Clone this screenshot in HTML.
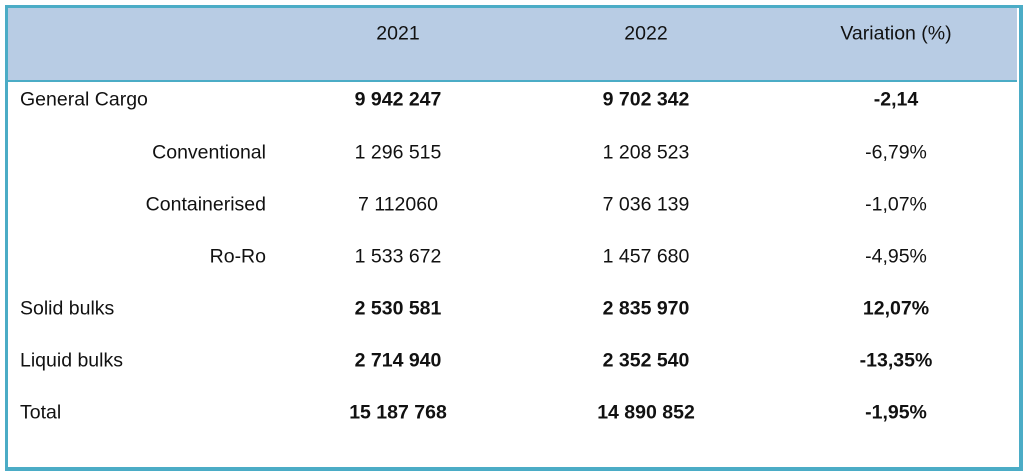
<!DOCTYPE html>
<html><head><meta charset="utf-8"><style>
html,body{margin:0;padding:0;background:#fff;width:1024px;height:476px;overflow:hidden}
body{font-family:"Liberation Sans",sans-serif;font-size:19.5px;color:#111}
#frame{position:absolute;left:5px;top:5px;width:1011px;height:459px;border:3px solid #4bacc6;border-right-width:4px;border-bottom-width:4px}
#hdr{position:absolute;left:8px;top:8px;width:1009px;height:72px;background:#b8cce4;border-bottom:2px solid #4bacc6}
.c{position:absolute;transform:translate(-50%,-50%);white-space:nowrap}
.l{position:absolute;transform:translateY(-50%);white-space:nowrap}
.r{position:absolute;transform:translate(-100%,-50%);white-space:nowrap}
.b{font-weight:bold}
</style></head><body>
<div id="frame"></div>
<div id="hdr"></div>
<div class="c" style="left:398px;top:34px">2021</div>
<div class="c" style="left:646px;top:34px">2022</div>
<div class="c" style="left:896px;top:34px">Variation (%)</div>

<div class="l" style="left:20px;top:100px">General Cargo</div>
<div class="c b" style="left:398px;top:100px">9 942 247</div>
<div class="c b" style="left:646px;top:100px">9 702 342</div>
<div class="c b" style="left:896px;top:100px">-2,14</div>

<div class="r" style="left:266px;top:153px">Conventional</div>
<div class="c" style="left:398px;top:153px">1 296 515</div>
<div class="c" style="left:646px;top:153px">1 208 523</div>
<div class="c" style="left:896px;top:153px">-6,79%</div>

<div class="r" style="left:266px;top:205px">Containerised</div>
<div class="c" style="left:398px;top:205px">7 112060</div>
<div class="c" style="left:646px;top:205px">7 036 139</div>
<div class="c" style="left:896px;top:205px">-1,07%</div>

<div class="r" style="left:266px;top:257px">Ro-Ro</div>
<div class="c" style="left:398px;top:257px">1 533 672</div>
<div class="c" style="left:646px;top:257px">1 457 680</div>
<div class="c" style="left:896px;top:257px">-4,95%</div>

<div class="l" style="left:20px;top:309px">Solid bulks</div>
<div class="c b" style="left:398px;top:309px">2 530 581</div>
<div class="c b" style="left:646px;top:309px">2 835 970</div>
<div class="c b" style="left:896px;top:309px">12,07%</div>

<div class="l" style="left:20px;top:361px">Liquid bulks</div>
<div class="c b" style="left:398px;top:361px">2 714 940</div>
<div class="c b" style="left:646px;top:361px">2 352 540</div>
<div class="c b" style="left:896px;top:361px">-13,35%</div>

<div class="l" style="left:20px;top:413px">Total</div>
<div class="c b" style="left:398px;top:413px">15 187 768</div>
<div class="c b" style="left:646px;top:413px">14 890 852</div>
<div class="c b" style="left:896px;top:413px">-1,95%</div>
</body></html>
